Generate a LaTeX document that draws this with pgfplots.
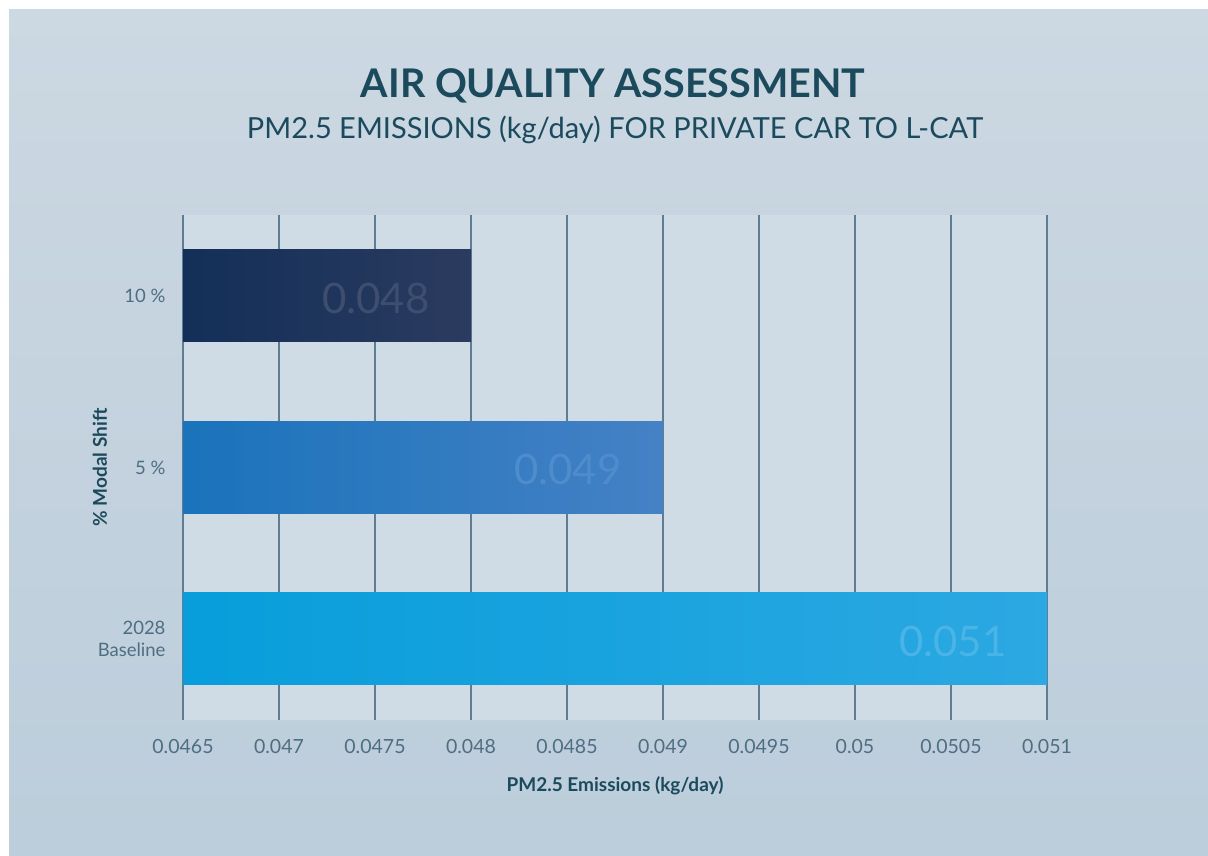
\documentclass[border=0pt]{standalone}
\usepackage{fontspec}
\setmainfont{Lato}
\usepackage{pgfplots}
\pgfplotsset{compat=1.18}
\definecolor{bgtop}{HTML}{CCD8E2}
\definecolor{bgbot}{HTML}{BCCDDB}
\definecolor{plotbg}{HTML}{CFDCE6}
\definecolor{gridc}{HTML}{5E7D92}
\definecolor{tickc}{HTML}{4E6E82}
\definecolor{titlec}{HTML}{1C4A5D}
\definecolor{navyL}{HTML}{132F58}
\definecolor{navyR}{HTML}{2B3B5F}
\definecolor{navyT}{HTML}{3E4E6F}
\definecolor{midL}{HTML}{1A73BB}
\definecolor{midR}{HTML}{4581C5}
\definecolor{midT}{HTML}{4F8CCC}
\definecolor{skyL}{HTML}{079EDB}
\definecolor{skyR}{HTML}{2CA8E2}
\definecolor{skyT}{HTML}{4BB4E6}

\begin{document}
\begin{tikzpicture}[x=1pt,y=1pt]
% page background, white strip at top and left
\fill[white] (0,0) rectangle (1208,856);
\shade[top color=bgtop,bottom color=bgbot] (9,0) rectangle (1208,846);

\node[font=\bfseries\fontsize{39.5}{42}\selectfont,text=titlec] at (613,770) {AIR QUALITY ASSESSMENT};
\node[font=\fontsize{29}{32}\selectfont,text=titlec] at (615,726) {PM2.5 EMISSIONS (kg/day) FOR PRIVATE CAR TO L-CAT};

\begin{axis}[
  at={(183pt,136pt)},anchor=south west,
  scale only axis,
  width=864pt,height=505pt,
  xmin=0.0465,xmax=0.051,
  ymin=-0.4723,ymax=2.4723,
  axis background/.style={fill=plotbg},
  axis line style={draw=none},
  tick style={draw=none},
  xmajorgrids,
  grid style={draw=gridc,line width=1.2pt},
  xtick={0.0465,0.047,0.0475,0.048,0.0485,0.049,0.0495,0.05,0.0505,0.051},
  xticklabels={0.0465,0.047,0.0475,0.048,0.0485,0.049,0.0495,0.05,0.0505,0.051},
  scaled x ticks=false,
  ytick={0,1,2},
  yticklabels={{2028\\Baseline},{5 \%},{10 \%}},
  xticklabel style={font=\fontsize{19.5}{22}\selectfont,text=tickc,yshift=-16pt},
  yticklabel style={font=\fontsize{18.5}{22}\selectfont,text=tickc,align=right,xshift=-14pt},
  xlabel={PM2.5 Emissions (kg/day)},
  ylabel={\% Modal Shift},
  every axis x label/.style={at={(axis description cs:0.5,-0.1307)},anchor=center,
    font=\bfseries\fontsize{19}{22}\selectfont,text=titlec},
  every axis y label/.style={at={(axis description cs:-0.0961,0.5)},rotate=90,anchor=center,
    font=\bfseries\fontsize{19}{22}\selectfont,text=titlec},
]
% bars: value per category, drawn from the left edge of the axis
\addplot[draw=none,left color=skyL,right color=skyR]
  coordinates {(0.0465,-0.2682) (0.051,-0.2682) (0.051,0.2682) (0.0465,0.2682)} --cycle;
\addplot[draw=none,left color=midL,right color=midR]
  coordinates {(0.0465,0.7318) (0.049,0.7318) (0.049,1.2682) (0.0465,1.2682)} --cycle;
\addplot[draw=none,left color=navyL,right color=navyR]
  coordinates {(0.0465,1.7318) (0.048,1.7318) (0.048,2.2682) (0.0465,2.2682)} --cycle;

\node[font=\fontsize{42}{46}\selectfont,text=skyT,xshift=-94pt,yshift=-2pt] at (axis cs:0.051,0) {0.051};
\node[font=\fontsize{42}{46}\selectfont,text=midT,xshift=-95pt,yshift=-2pt] at (axis cs:0.049,1) {0.049};
\node[font=\fontsize{42}{46}\selectfont,text=navyT,xshift=-95pt,yshift=-2pt] at (axis cs:0.048,2) {0.048};
\end{axis}
\end{tikzpicture}
\end{document}
